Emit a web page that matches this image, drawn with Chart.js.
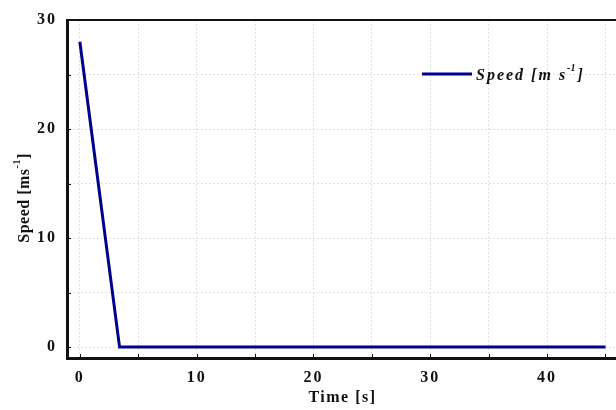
<!DOCTYPE html>
<html>
<head>
<meta charset="utf-8">
<script src="https://cdn.jsdelivr.net/npm/chart.js@4"></script>
<style>
  body { margin: 0; background: #fff; }
  #wrap { width: 616px; height: 410px; }
</style>
</head>
<body>
<div id="wrap"><canvas id="speedChart"></canvas></div>
<script>
// ===== DATA =====
const timeValues = [0, 3.4, 45];
const speedValues = [28, 0, 0];
const xTickLabels = [0, 10, 20, 30, 40];
const yTickLabels = [0, 10, 20, 30];

const seriesName = "Speed [m s";
const navy = "#00008b";
const serif = "'Liberation Serif', 'Times New Roman', serif";

const points = timeValues.map((t, i) => ({ x: t, y: speedValues[i] }));

// ===== TITLES, LEGEND, TICK MARKS =====
const extras = {
  id: "extras",
  beforeDraw(chart) {
    chart.ctx.letterSpacing = "2px";
  },
  afterDraw(chart) {
    const ctx = chart.ctx;
    const a = chart.chartArea;
    const xs = chart.scales.x, ys = chart.scales.y;
    ctx.save();
    ctx.letterSpacing = "0px";

    // top frame line
    ctx.strokeStyle = "#111";
    ctx.lineWidth = 2;
    ctx.beginPath();
    ctx.moveTo(a.left, a.top);
    ctx.lineTo(a.right, a.top);
    ctx.stroke();

    // inward tick marks
    ctx.lineWidth = 1;
    for (let v = 0; v <= 45; v += 5) {
      const px = Math.round(xs.getPixelForValue(v)) + 0.5;
      ctx.beginPath();
      ctx.moveTo(px, a.bottom);
      ctx.lineTo(px, a.bottom - 4);
      ctx.stroke();
    }
    for (let v = 0; v <= 30; v += 5) {
      const py = Math.round(ys.getPixelForValue(v)) + 0.5;
      ctx.beginPath();
      ctx.moveTo(a.left, py);
      ctx.lineTo(a.left + 4, py);
      ctx.stroke();
    }

    // x axis title
    ctx.fillStyle = "#111";
    ctx.font = "bold 16px " + serif;
    ctx.textAlign = "center";
    ctx.textBaseline = "middle";
    ctx.letterSpacing = "1.5px";
    ctx.fillText("Time [s]", (a.left + a.right) / 2 + 1, 398);

    // y axis title with superscript
    ctx.save();
    ctx.translate(23, 198);
    ctx.rotate(-Math.PI / 2);
    ctx.textAlign = "left";
    ctx.textBaseline = "alphabetic";
    ctx.letterSpacing = "0.5px";
    const p1 = "Speed [ms";
    ctx.font = "bold 16px " + serif;
    const w1 = ctx.measureText(p1).width;
    ctx.font = "bold 10px " + serif;
    const w2 = ctx.measureText("-1").width;
    ctx.font = "bold 16px " + serif;
    const w3 = ctx.measureText("]").width;
    let x0 = -(w1 + w2 + w3) / 2;
    ctx.fillText(p1, x0, 6);
    ctx.font = "bold 10px " + serif;
    ctx.fillText("-1", x0 + w1, -3);
    ctx.font = "bold 16px " + serif;
    ctx.fillText("]", x0 + w1 + w2, 6);
    ctx.restore();

    // legend
    ctx.strokeStyle = navy;
    ctx.lineWidth = 3;
    ctx.beginPath();
    ctx.moveTo(422, 74);
    ctx.lineTo(472, 74);
    ctx.stroke();
    ctx.textAlign = "left";
    ctx.textBaseline = "alphabetic";
    ctx.letterSpacing = "2px";
    ctx.font = "italic bold 16px " + serif;
    ctx.fillText(seriesName, 476, 80);
    let lx = 476 + ctx.measureText(seriesName).width;
    ctx.font = "italic bold 10px " + serif;
    ctx.letterSpacing = "0px";
    ctx.fillText("-1", lx, 71);
    lx += ctx.measureText("-1").width + 2;
    ctx.font = "italic bold 16px " + serif;
    ctx.fillText("]", lx, 80);

    ctx.restore();
  }
};

new Chart(document.getElementById("speedChart"), {
  type: "scatter",
  data: {
    datasets: [{
      label: "Speed",
      data: points,
      showLine: true,
      borderColor: navy,
      backgroundColor: navy,
      borderWidth: 3,
      pointRadius: 0,
      tension: 0
    }]
  },
  options: {
    responsive: true,
    maintainAspectRatio: false,
    animation: false,
    layout: { padding: { top: 20, right: 0, left: 0, bottom: 0 } },
    plugins: {
      legend: { display: false },
      tooltip: { enabled: false }
    },
    scales: {
      x: {
        type: "linear",
        min: -1.1,
        max: 45.9,
        afterFit: s => { s.height = 52; },
        afterBuildTicks: s => {
          s.ticks = [];
          for (let v = 0; v <= 45; v += 5) s.ticks.push({ value: v });
        },
        ticks: {
          autoSkip: false,
          maxRotation: 0,
          padding: 10,
          color: "#111",
          font: { family: serif, size: 16, weight: "bold" },
          callback: v => xTickLabels.includes(v) ? String(v) : ""
        },
        grid: { color: "#e2e2e2", lineWidth: 1, drawTicks: false },
        border: { display: true, color: "#111", width: 3, dash: [2, 2] }
      },
      y: {
        type: "linear",
        min: -1,
        max: 30,
        afterFit: s => { s.width = 67; },
        afterBuildTicks: s => {
          s.ticks = [];
          for (let v = 0; v <= 30; v += 5) s.ticks.push({ value: v });
        },
        ticks: {
          autoSkip: false,
          padding: 10,
          color: "#111",
          font: { family: serif, size: 16, weight: "bold" },
          callback: v => yTickLabels.includes(v) ? String(v) : ""
        },
        grid: { color: "#e2e2e2", lineWidth: 1, drawTicks: false },
        border: { display: true, color: "#111", width: 3, dash: [2, 2] }
      }
    }
  },
  plugins: [extras]
});
</script>
</body>
</html>
